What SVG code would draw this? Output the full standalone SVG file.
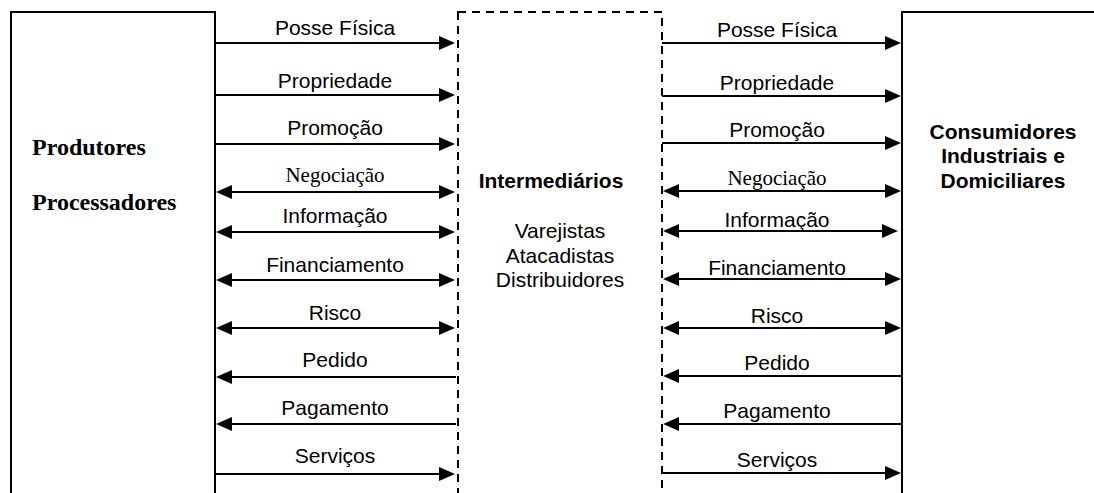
<svg xmlns="http://www.w3.org/2000/svg" width="1094" height="493" viewBox="0 0 1094 493">
<style>
.box{fill:#fff;stroke:#000;stroke-width:2}
.dash{fill:#fff;stroke:#000;stroke-width:2;stroke-dasharray:8 6}
.ln{stroke:#000;stroke-width:2;fill:none}
.r{marker-end:url(#ah)}
.l{marker-start:url(#ah)}
.lbl{font-family:"Liberation Sans",Arial,sans-serif;font-size:21px;text-anchor:middle;fill:#000}
.ser{font-family:"Liberation Serif","Times New Roman",serif;font-size:21px;text-anchor:middle;fill:#000}
.tb{font-family:"Liberation Serif","Times New Roman",serif;font-size:24px;font-weight:bold;fill:#000}
.ab{font-family:"Liberation Sans",Arial,sans-serif;font-size:21px;font-weight:bold;text-anchor:middle;fill:#000}
</style>
<defs>
<marker id="ah" viewBox="0 0 16 14" refX="8" refY="7" markerWidth="16" markerHeight="14" markerUnits="userSpaceOnUse" orient="auto-start-reverse">
<path d="M0,0 L16,7 L0,14 z" fill="#000"/>
</marker>
</defs>
<rect width="1094" height="493" fill="#fff"/>
<g id="produtores">
<rect class="box" x="11" y="12" width="204" height="500"/>
<text class="tb" x="32" y="155">Produtores</text>
<text class="tb" x="32" y="210">Processadores</text>
</g>
<g id="intermediarios">
<rect class="dash" x="458" y="12" width="204" height="500"/>
<text class="ab" x="551" y="188">Intermediários</text>
<text class="lbl" x="560" y="238">Varejistas</text>
<text class="lbl" x="560" y="263">Atacadistas</text>
<text class="lbl" x="560" y="287">Distribuidores</text>
</g>
<g id="consumidores">
<rect class="box" x="902" y="12" width="250" height="500"/>
<text class="ab" x="1003" y="139">Consumidores</text>
<text class="ab" x="1003" y="163">Industriais e</text>
<text class="ab" x="1003" y="188">Domiciliares</text>
</g>
<g id="connectors">
<!-- left side -->
<line class="ln r" x1="215" y1="43" x2="447" y2="43"/>
<line class="ln r" x1="215" y1="95" x2="447" y2="95"/>
<line class="ln r" x1="215" y1="144" x2="447" y2="144"/>
<line class="ln l r" x1="224" y1="192" x2="447" y2="192"/>
<line class="ln l r" x1="224" y1="232" x2="447" y2="232"/>
<line class="ln l r" x1="224" y1="280" x2="447" y2="280"/>
<line class="ln l r" x1="224" y1="328" x2="447" y2="328"/>
<line class="ln l" x1="224" y1="377" x2="456" y2="377"/>
<line class="ln l" x1="224" y1="424" x2="456" y2="424"/>
<line class="ln r" x1="215" y1="474" x2="447" y2="474"/>
<!-- right side -->
<line class="ln r" x1="662" y1="43" x2="893" y2="43"/>
<line class="ln r" x1="662" y1="96" x2="893" y2="96"/>
<line class="ln r" x1="662" y1="143" x2="893" y2="143"/>
<line class="ln l r" x1="671" y1="191" x2="893" y2="191"/>
<line class="ln l r" x1="671" y1="231" x2="890" y2="231"/>
<line class="ln l r" x1="671" y1="279" x2="893" y2="279"/>
<line class="ln l r" x1="671" y1="328" x2="893" y2="328"/>
<line class="ln l" x1="671" y1="376" x2="902" y2="376"/>
<line class="ln l" x1="671" y1="424" x2="902" y2="424"/>
<line class="ln r" x1="662" y1="473" x2="893" y2="473"/>
</g>
<g id="labels-left">
<text class="lbl" x="335" y="35">Posse Física</text>
<text class="lbl" x="335" y="88">Propriedade</text>
<text class="lbl" x="335" y="135">Promoção</text>
<text class="ser" x="335" y="182">Negociação</text>
<text class="lbl" x="335" y="223">Informação</text>
<text class="lbl" x="335" y="272">Financiamento</text>
<text class="lbl" x="335" y="320">Risco</text>
<text class="lbl" x="335" y="367">Pedido</text>
<text class="lbl" x="335" y="415">Pagamento</text>
<text class="lbl" x="335" y="463">Serviços</text>
</g>
<g id="labels-right">
<text class="lbl" x="777" y="37">Posse Física</text>
<text class="lbl" x="777" y="90">Propriedade</text>
<text class="lbl" x="777" y="137">Promoção</text>
<text class="ser" x="777" y="185">Negociação</text>
<text class="lbl" x="777" y="227">Informação</text>
<text class="lbl" x="777" y="275">Financiamento</text>
<text class="lbl" x="777" y="323">Risco</text>
<text class="lbl" x="777" y="370">Pedido</text>
<text class="lbl" x="777" y="418">Pagamento</text>
<text class="lbl" x="777" y="467">Serviços</text>
</g>
</svg>
